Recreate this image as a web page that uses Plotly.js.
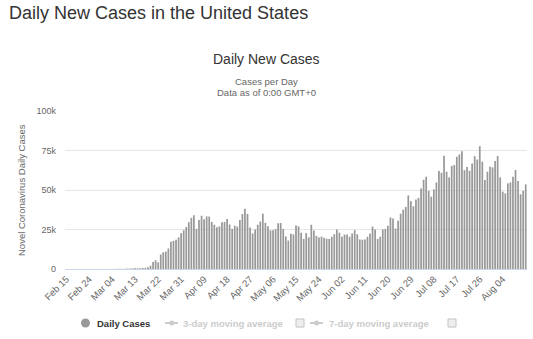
<!DOCTYPE html>
<html>
<head>
<meta charset="utf-8">
<script src="https://cdn.plot.ly/plotly-3.0.1.min.js"></script>
<style>
  html, body { margin: 0; padding: 0; background: #fff; }
  #chart { width: 533px; height: 339px; }
</style>
</head>
<body>
<div id="chart"></div>
<script>
// Categories (dates shown on the x axis)
const categories = [
  "Feb 15","Feb 16","Feb 17","Feb 18","Feb 19","Feb 20","Feb 21","Feb 22","Feb 23","Feb 24","Feb 25","Feb 26","Feb 27","Feb 28","Feb 29",
  "Mar 01","Mar 02","Mar 03","Mar 04","Mar 05","Mar 06","Mar 07","Mar 08","Mar 09","Mar 10","Mar 11","Mar 12","Mar 13","Mar 14","Mar 15","Mar 16","Mar 17","Mar 18","Mar 19","Mar 20","Mar 21","Mar 22","Mar 23","Mar 24","Mar 25","Mar 26","Mar 27","Mar 28","Mar 29","Mar 30","Mar 31",
  "Apr 01","Apr 02","Apr 03","Apr 04","Apr 05","Apr 06","Apr 07","Apr 08","Apr 09","Apr 10","Apr 11","Apr 12","Apr 13","Apr 14","Apr 15","Apr 16","Apr 17","Apr 18","Apr 19","Apr 20","Apr 21","Apr 22","Apr 23","Apr 24","Apr 25","Apr 26","Apr 27","Apr 28","Apr 29","Apr 30",
  "May 01","May 02","May 03","May 04","May 05","May 06","May 07","May 08","May 09","May 10","May 11","May 12","May 13","May 14","May 15","May 16","May 17","May 18","May 19","May 20","May 21","May 22","May 23","May 24","May 25","May 26","May 27","May 28","May 29","May 30","May 31",
  "Jun 01","Jun 02","Jun 03","Jun 04","Jun 05","Jun 06","Jun 07","Jun 08","Jun 09","Jun 10","Jun 11","Jun 12","Jun 13","Jun 14","Jun 15","Jun 16","Jun 17","Jun 18","Jun 19","Jun 20","Jun 21","Jun 22","Jun 23","Jun 24","Jun 25","Jun 26","Jun 27","Jun 28","Jun 29","Jun 30",
  "Jul 01","Jul 02","Jul 03","Jul 04","Jul 05","Jul 06","Jul 07","Jul 08","Jul 09","Jul 10","Jul 11","Jul 12","Jul 13","Jul 14","Jul 15","Jul 16","Jul 17","Jul 18","Jul 19","Jul 20","Jul 21","Jul 22","Jul 23","Jul 24","Jul 25","Jul 26","Jul 27","Jul 28","Jul 29","Jul 30","Jul 31",
  "Aug 01","Aug 02","Aug 03","Aug 04","Aug 05","Aug 06","Aug 07","Aug 08","Aug 09","Aug 10","Aug 11","Aug 12","Aug 13"
];

// Daily new cases, by month
const casesFeb = [0,0,0,0,0,0,2,0,0,0,1,0,2,1,5];
const casesMar = [8,25,20,32,70,67,100,116,177,291,281,421,548,450,500,600,750,1100,2100,4400,5500,4200,9200,10600,11000,13000,17200,17800,18500,20000,22700];
const casesApr = [24500,26600,29600,32400,34000,25400,31000,33700,31500,33300,33200,29800,28000,26500,27000,29600,29800,31700,28200,25400,27500,26800,31000,34800,38200,34800,26200,22500,25000,28000];
const casesMay = [30000,35000,29200,27000,24400,24600,25200,29000,29100,25400,20600,18000,22300,21900,27500,27000,23000,19000,22700,20000,28000,24400,21000,20000,20500,19800,19200,19000,20400,22000,25000];
const casesJun = [23000,20400,21800,21800,20400,22500,24600,22000,18700,18500,18700,20400,22500,26900,25000,19000,20400,25000,25400,27300,32600,32000,25600,30500,35000,37600,39300,46600,42900,39700];
const casesJul = [44000,45000,51000,56500,58400,49400,45800,50400,54800,62000,60900,71600,61600,58000,65300,65800,71000,72500,74600,62600,64500,62200,66800,71400,69300,77700,67900,56300,61600,64700,64300];
const casesAug = [68300,71600,58000,49000,47900,54200,54800,58400,62600,55700,47300,49400,53600];

// Axis tick labels
const xTickLabels = ["Feb 15","Feb 24","Mar 04","Mar 13","Mar 22","Mar 31","Apr 09","Apr 18","Apr 27","May 06","May 15","May 24","Jun 02","Jun 11","Jun 20","Jun 29","Jul 08","Jul 17","Jul 26","Aug 04"];
const yTickVals = [0,25000,50000,75000,100000];
const yTickText = ["0","25k","50k","75k","100k"];

const dailyCases = [].concat(casesFeb, casesMar, casesApr, casesMay, casesJun, casesJul, casesAug);

const FONT = "Liberation Sans, Arial, Helvetica, sans-serif";
// pixel -> paper helpers (plot area: x 65..527, y 111..269)
const L = 65, R = 527, T = 111, B = 269;
const px = v => (v - L) / (R - L);
const py = v => (B - v) / (B - T);

const trace = {
  type: "bar",
  x: categories,
  y: dailyCases,
  marker: { color: "#999999", line: { width: 0 } },
  hoverinfo: "none"
};

const ann = (text, x, y, opts) => Object.assign({
  text: text, xref: "paper", yref: "paper", x: px(x), y: py(y),
  showarrow: false, xanchor: "center", yanchor: "middle",
  font: { family: FONT, size: 9.5, color: "#666" }
}, opts || {});

const layout = {
  width: 533, height: 339,
  margin: { l: L, r: 533 - R, t: T, b: 339 - B, pad: 0 },
  paper_bgcolor: "#ffffff", plot_bgcolor: "#ffffff",
  showlegend: false,
  bargap: 0.32,
  font: { family: FONT },
  xaxis: {
    type: "category",
    range: [-0.5, categories.length - 0.5],
    tickmode: "array", tickvals: xTickLabels, ticktext: xTickLabels,
    tickangle: -45,
    tickfont: { family: FONT, size: 9.5, color: "#666" },
    showgrid: false, zeroline: false,
    showline: true, linecolor: "#ccd6eb", linewidth: 1,
    ticks: "", fixedrange: true
  },
  yaxis: {
    range: [0, 100000],
    tickmode: "array", tickvals: yTickVals, ticktext: yTickText,
    tickfont: { family: FONT, size: 9, color: "#666" },
    gridcolor: "#e6e6e6", gridwidth: 1,
    zeroline: false, showline: false, ticks: "",
    ticklabelstandoff: 8, fixedrange: true
  },
  annotations: [
    ann("Daily New Cases in the United States", 7, 13, { xanchor: "left", font: { family: FONT, size: 18, color: "#333" } }),
    ann("Daily New Cases", 266, 59, { font: { family: FONT, size: 14, color: "#333" } }),
    ann("Cases per Day", 266, 82),
    ann("Data as of 0:00 GMT+0", 266, 92.5),
    ann("Novel Coronavirus Daily Cases", 21, 190, { textangle: -90 }),
    ann("<b>Daily Cases</b>", 94.5, 323, { xanchor: "left", font: { family: FONT, size: 9.5, color: "#333" } }),
    ann("<b>3-day moving average</b>", 180.5, 323, { xanchor: "left", font: { family: FONT, size: 9.5, color: "#cccccc" } }),
    ann("<b>7-day moving average</b>", 326.5, 323, { xanchor: "left", font: { family: FONT, size: 9.5, color: "#cccccc" } })
  ],
  shapes: [
    { type: "circle", xref: "paper", yref: "paper", x0: px(81), x1: px(90), y0: py(327.5), y1: py(318.5), fillcolor: "#999", line: { width: 0 } },
    { type: "line", xref: "paper", yref: "paper", x0: px(165), x1: px(178), y0: py(323), y1: py(323), line: { color: "#cccccc", width: 2 } },
    { type: "circle", xref: "paper", yref: "paper", x0: px(169.3), x1: px(174.3), y0: py(325.5), y1: py(320.5), fillcolor: "#cccccc", line: { width: 0 } },
    { type: "rect", xref: "paper", yref: "paper", x0: px(296), x1: px(304), y0: py(327), y1: py(319), fillcolor: "#eeeeee", line: { color: "#c4c4c4", width: 1 } },
    { type: "line", xref: "paper", yref: "paper", x0: px(310), x1: px(323), y0: py(323), y1: py(323), line: { color: "#cccccc", width: 2 } },
    { type: "circle", xref: "paper", yref: "paper", x0: px(314), x1: px(319), y0: py(325.5), y1: py(320.5), fillcolor: "#cccccc", line: { width: 0 } },
    { type: "rect", xref: "paper", yref: "paper", x0: px(448), x1: px(456), y0: py(327), y1: py(319), fillcolor: "#eeeeee", line: { color: "#c4c4c4", width: 1 } }
  ]
};

Plotly.newPlot("chart", [trace], layout, { staticPlot: true, displayModeBar: false });
</script>
</body>
</html>
